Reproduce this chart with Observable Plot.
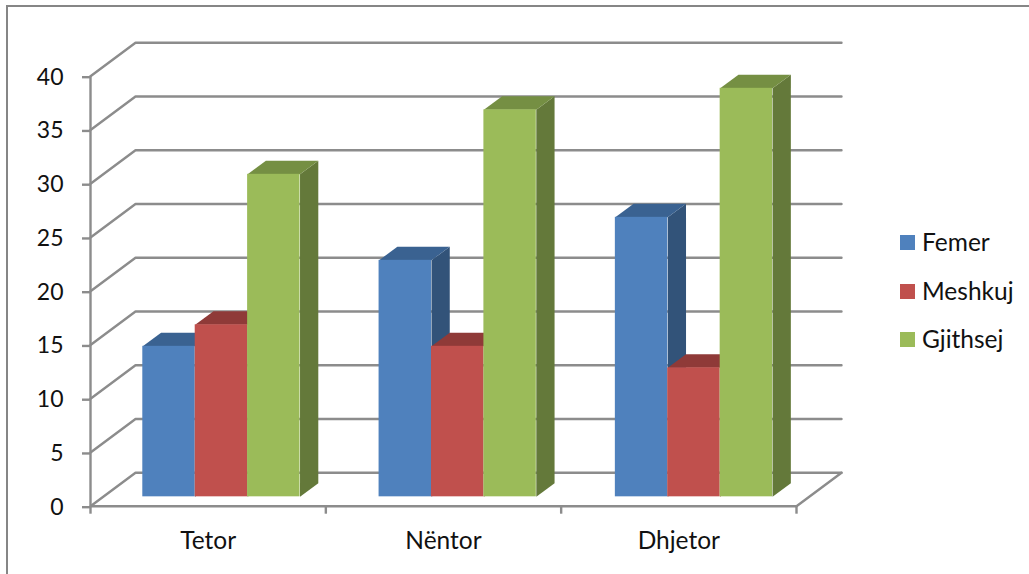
<!DOCTYPE html>
<html>
<head>
<meta charset="utf-8">
<script src="https://cdn.jsdelivr.net/npm/d3@7"></script>
<script src="https://cdn.jsdelivr.net/npm/@observablehq/plot@0.6"></script>
<style>
  html, body { margin: 0; padding: 0; background: #fff; }
  #chart { position: relative; width: 1029px; height: 574px; overflow: hidden; font-family: Lato, sans-serif; color: #111; }
  #chart svg { position: absolute; left: 0; top: 0; }
  #frame { position: absolute; left: 6px; top: 5px; right: -4px; bottom: -4px; border-left: 2px solid #868686; border-top: 2px solid #868686; }
  .key { position: absolute; left: 900px; height: 15px; font-size: 24.5px; line-height: 15px; white-space: nowrap; }
  .key i { position: absolute; left: 0; top: 0; width: 15px; height: 15px; }
  .key span { position: absolute; left: 22px; top: -1px; }
</style>
</head>
<body>
<div id="chart"><div id="frame"></div></div>
<script>
// Monthly counts per group
const months = ["Tetor", "Nëntor", "Dhjetor"];
const groups = ["Femer", "Meshkuj", "Gjithsej"];
const femer = [14, 22, 26];
const meshkuj = [16, 14, 12];
const gjithsej = [30, 36, 38];
const valueTicks = [0, 5, 10, 15, 20, 25, 30, 35, 40];

const front = ["#4F81BD", "#C0504D", "#9BBB59"];
const top3d = ["#3A6291", "#8F3A38", "#758F43"];
const side = ["#325379", "#7C3230", "#64793A"];
const grid = "#8C8C8C";

// Oblique projection: depth d (0 = front, 1 = back wall) shifts a point
// along the floor, expressed in category and value units.
const depthX = 45 / 235.33;
const depthY = 33.5 / 10.75;
const px = (c, d) => c + d * depthX;
const py = (v, d) => v + d * depthY;
const pt = (c, v, d, id) => ({x: px(c, d), y: py(v, d), id});

// Bar layout inside a category slot, and its extent in depth.
// Slots grow slightly at the bars' depth, as in a mild perspective.
const slotStep = 1.004;
const barW = 0.2227;
const barStart = 0.1687;
const depth0 = 0.28;
const depth1 = 0.686;

// Walls and floor
const wallLines = valueTicks.flatMap(v => [
  pt(0, v, 0, v), pt(0, v, 1, v), pt(3, v, 1, v)
]);
const floorEdge = [pt(3, 0, 1, "f"), pt(3, 0, 0, "f")];

const barMarks = [];
[femer, meshkuj, gjithsej].forEach((series, s) => {
  const faces = {front: [], top: [], side: []};
  series.forEach((v, m) => {
    const c0 = m * slotStep + barStart + s * barW;
    const c1 = c0 + barW;
    faces.front.push({x1: px(c0, depth0), x2: px(c1, depth0), y1: py(0, depth0), y2: py(v, depth0)});
    faces.top.push(pt(c0, v, depth0, m), pt(c1, v, depth0, m), pt(c1, v, depth1, m), pt(c0, v, depth1, m));
    faces.side.push(pt(c1, 0, depth0, m), pt(c1, v, depth0, m), pt(c1, v, depth1, m), pt(c1, 0, depth1, m));
  });
  barMarks.push(
    Plot.line(faces.side, {x: "x", y: "y", z: "id", fill: side[s], stroke: null, curve: "linear-closed"}),
    Plot.line(faces.top, {x: "x", y: "y", z: "id", fill: top3d[s], stroke: null, curve: "linear-closed"}),
    Plot.rect(faces.front, {x1: "x1", x2: "x2", y1: "y1", y2: "y2", fill: front[s]})
  );
});

const plot = Plot.plot({
  width: 1029,
  height: 574,
  marginLeft: 90,
  marginRight: 233,
  marginTop: 75.7,
  marginBottom: 68.3,
  style: {background: "transparent", fontFamily: "Lato, sans-serif", overflow: "visible"},
  x: {domain: [0, 3]},
  y: {domain: [0, 40]},
  marks: [
    Plot.line(wallLines, {x: "x", y: "y", z: "id", stroke: grid, strokeWidth: 2.4, strokeLinejoin: "round"}),
    Plot.line(floorEdge, {x: "x", y: "y", z: "id", stroke: grid, strokeWidth: 2.4}),
    ...barMarks,
    Plot.ruleY([0], {stroke: grid, strokeWidth: 2.4}),
    Plot.ruleX([0], {y1: 0, y2: 40, stroke: grid, strokeWidth: 2.4}),
    Plot.axisY({ticks: valueTicks, tickSize: 8, tickPadding: 19, dy: 1, stroke: grid, strokeWidth: 2.4, strokeOpacity: 1, fill: "#111", fontSize: 23, label: null}),
    Plot.axisX({ticks: [0, 1, 2, 3], tickSize: 8, tickFormat: () => "", stroke: grid, strokeWidth: 2.4, strokeOpacity: 1, label: null}),
    Plot.axisX({ticks: [0.5, 1.5, 2.5], tickSize: 0, tickPadding: 25, tickFormat: d => months[d - 0.5], fill: "#111", fontSize: 24.5, label: null})
  ]
});

const chart = document.getElementById("chart");
chart.appendChild(plot);

// Key on the right-hand side
const keyTops = [235, 284, 332];
groups.forEach((g, i) => {
  const row = document.createElement("div");
  row.className = "key";
  row.style.top = keyTops[i] + "px";
  const box = document.createElement("i");
  box.style.background = front[i];
  const label = document.createElement("span");
  label.textContent = g;
  row.append(box, label);
  chart.appendChild(row);
});
</script>
</body>
</html>
